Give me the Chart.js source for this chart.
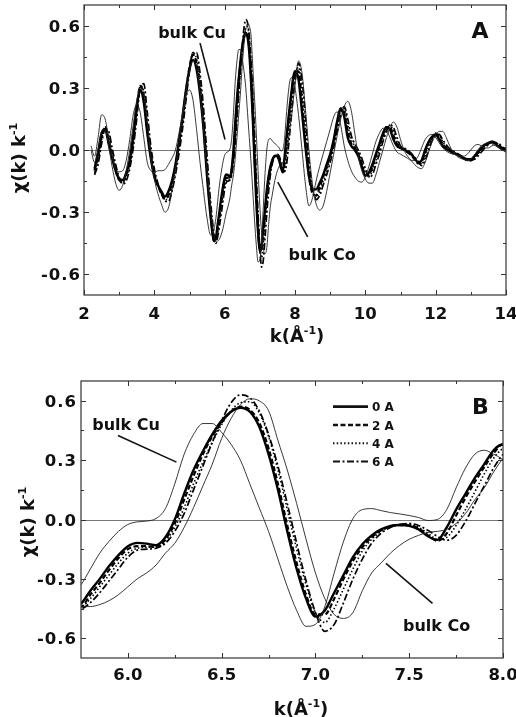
<!DOCTYPE html>
<html>
<head>
<meta charset="utf-8">
<script src="https://cdn.jsdelivr.net/npm/chart.js@4.4.0/dist/chart.umd.min.js"></script>
<style>
  html, body { margin: 0; padding: 0; background: #fff; }
  #wrap { position: relative; width: 516px; height: 717px; overflow: hidden; }
  #chartA { position: absolute; left: 0; top: 0; }
  #chartB { position: absolute; left: 0; top: 345px; }
</style>
</head>
<body>
<div id="wrap">
  <canvas id="chartA" width="516" height="345"></canvas>
  <canvas id="chartB" width="516" height="372"></canvas>
</div>
<script>
// photoelectron wave number k (1/Angstrom); finer steps across 5.75-8.0 for the zoomed panel
const kValues = [
  2.2, 2.3, 2.4, 2.5, 2.6, 2.7, 2.8, 2.9, 3.0, 3.1, 3.2, 3.3, 3.4, 3.5, 3.6, 3.7, 3.8, 3.9,
  4.0, 4.1, 4.2, 4.3, 4.4, 4.5, 4.6, 4.7, 4.8, 4.9, 5.0, 5.1, 5.2, 5.3, 5.4, 5.5, 5.6, 5.7,
  5.75, 5.8, 5.85, 5.9, 5.95, 6.0, 6.05, 6.1, 6.15, 6.2,
  6.25, 6.3, 6.35, 6.4, 6.45, 6.5, 6.55, 6.6, 6.65, 6.7,
  6.75, 6.8, 6.85, 6.9, 6.95, 7.0, 7.05, 7.1, 7.15, 7.2,
  7.25, 7.3, 7.35, 7.4, 7.45, 7.5, 7.55, 7.6, 7.65, 7.7,
  7.75, 7.8, 7.85, 7.9, 7.95, 8.0,
  8.1, 8.2, 8.3, 8.4, 8.5, 8.6, 8.7, 8.8, 8.9,
  9.0, 9.1, 9.2, 9.3, 9.4, 9.5, 9.6, 9.7, 9.8, 9.9,
  10.0, 10.1, 10.2, 10.3, 10.4, 10.5, 10.6, 10.7, 10.8, 10.9,
  11.0, 11.1, 11.2, 11.3, 11.4, 11.5, 11.6, 11.7, 11.8, 11.9,
  12.0, 12.1, 12.2, 12.3, 12.4, 12.5, 12.6, 12.7, 12.8, 12.9,
  13.0, 13.1, 13.2, 13.3, 13.4, 13.5, 13.6, 13.7, 13.8, 13.9,
  14.0
];

// chi(k)*k for the four Cu spacer thicknesses
const chi0A = [
  null, -0.09, -0.01, 0.08, 0.10, 0.03, -0.04, -0.10, -0.14, -0.145, -0.11, -0.05, 0.07, 0.21, 0.29, 0.23, 0.08, -0.04,
  -0.13, -0.17, -0.20, -0.225, -0.20, -0.15, -0.07, 0.04, 0.16, 0.29, 0.39, 0.435, 0.39, 0.27, 0.10, -0.13, -0.32, -0.44,
  -0.425, -0.36, -0.30, -0.235, -0.18, -0.135, -0.118, -0.122, -0.13, -0.09,
  0.0, 0.13, 0.25, 0.345, 0.43, 0.50, 0.545, 0.565, 0.545, 0.47,
  0.33, 0.15, -0.06, -0.25, -0.40, -0.49, -0.46, -0.37, -0.28, -0.19,
  -0.125, -0.08, -0.05, -0.032, -0.028, -0.032, -0.05, -0.085, -0.103, -0.04,
  0.05, 0.13, 0.21, 0.28, 0.35, 0.38,
  0.34, 0.18, 0.01, -0.13, -0.19, -0.19, -0.16, -0.12, -0.07,
  -0.02, 0.05, 0.14, 0.20, 0.16, 0.06, 0.02, 0.00, -0.03, -0.08,
  -0.125, -0.11, -0.07, -0.02, 0.03, 0.08, 0.11, 0.10, 0.05, 0.02,
  0.01, 0.005, -0.01, -0.02, -0.04, -0.06, -0.05, 0.0, 0.04, 0.065,
  0.075, 0.05, 0.02, 0.005, -0.005, -0.015, -0.02, -0.03, -0.04, -0.045,
  -0.045, -0.03, -0.01, 0.01, 0.025, 0.035, 0.04, 0.03, 0.015, 0.005,
  0.005
];
const chi2A = [
  null, -0.10, -0.03, 0.07, 0.11, 0.05, -0.03, -0.10, -0.145, -0.155, -0.12, -0.06, 0.05, 0.20, 0.31, 0.26, 0.10, -0.03,
  -0.12, -0.17, -0.21, -0.235, -0.22, -0.16, -0.08, 0.03, 0.15, 0.28, 0.40, 0.46, 0.42, 0.30, 0.12, -0.11, -0.31, -0.44,
  -0.44, -0.38, -0.32, -0.255, -0.195, -0.15, -0.135, -0.135, -0.14, -0.10,
  -0.02, 0.10, 0.22, 0.33, 0.42, 0.49, 0.545, 0.57, 0.555, 0.49,
  0.36, 0.18, -0.03, -0.22, -0.38, -0.48, -0.48, -0.40, -0.30, -0.21,
  -0.14, -0.09, -0.055, -0.035, -0.028, -0.03, -0.045, -0.08, -0.108, -0.07,
  0.02, 0.11, 0.19, 0.265, 0.335, 0.38,
  0.38, 0.22, 0.03, -0.13, -0.21, -0.22, -0.18, -0.13, -0.08,
  -0.03, 0.04, 0.13, 0.20, 0.18, 0.09, 0.03, 0.01, -0.02, -0.07,
  -0.12, -0.12, -0.08, -0.03, 0.02, 0.07, 0.11, 0.11, 0.07, 0.03,
  0.01, 0.0, -0.01, -0.025, -0.045, -0.065, -0.06, -0.01, 0.035, 0.06,
  0.08, 0.06, 0.03, 0.01, 0.0, -0.01, -0.02, -0.03, -0.04, -0.05,
  -0.05, -0.035, -0.015, 0.005, 0.02, 0.03, 0.04, 0.035, 0.02, 0.01,
  0.0
];
const chi4A = [
  null, -0.11, -0.05, 0.05, 0.11, 0.07, -0.02, -0.09, -0.14, -0.16, -0.13, -0.07, 0.03, 0.18, 0.31, 0.28, 0.13, -0.01,
  -0.11, -0.17, -0.21, -0.24, -0.23, -0.18, -0.10, 0.01, 0.13, 0.27, 0.40, 0.47, 0.44, 0.33, 0.15, -0.08, -0.29, -0.43,
  -0.44, -0.40, -0.34, -0.28, -0.22, -0.17, -0.145, -0.14, -0.14, -0.11,
  -0.04, 0.06, 0.18, 0.29, 0.39, 0.48, 0.55, 0.59, 0.595, 0.54,
  0.42, 0.25, 0.05, -0.15, -0.33, -0.47, -0.52, -0.45, -0.35, -0.25,
  -0.16, -0.10, -0.06, -0.035, -0.025, -0.025, -0.04, -0.07, -0.10, -0.09,
  -0.03, 0.05, 0.14, 0.23, 0.31, 0.36,
  0.40, 0.28, 0.08, -0.10, -0.20, -0.23, -0.20, -0.15, -0.10,
  -0.04, 0.03, 0.11, 0.19, 0.20, 0.12, 0.05, 0.02, -0.01, -0.06,
  -0.11, -0.13, -0.10, -0.05, 0.0, 0.06, 0.10, 0.12, 0.09, 0.04,
  0.015, 0.005, -0.005, -0.02, -0.04, -0.06, -0.07, -0.03, 0.02, 0.055,
  0.075, 0.07, 0.04, 0.015, 0.0, -0.01, -0.02, -0.03, -0.04, -0.05,
  -0.05, -0.04, -0.02, 0.0, 0.02, 0.03, 0.035, 0.035, 0.025, 0.01,
  0.0
];
const chi6A = [
  null, -0.12, -0.07, 0.03, 0.10, 0.09, 0.01, -0.07, -0.13, -0.165, -0.15, -0.09, 0.01, 0.15, 0.30, 0.32, 0.18, 0.02,
  -0.09, -0.16, -0.21, -0.245, -0.25, -0.20, -0.12, -0.02, 0.10, 0.24, 0.38, 0.47, 0.47, 0.37, 0.20, -0.03, -0.25, -0.41,
  -0.45, -0.42, -0.37, -0.31, -0.25, -0.19, -0.155, -0.15, -0.145, -0.12,
  -0.06, 0.03, 0.15, 0.27, 0.39, 0.50, 0.59, 0.63, 0.615, 0.55,
  0.43, 0.27, 0.08, -0.12, -0.31, -0.47, -0.565, -0.53, -0.42, -0.30,
  -0.20, -0.12, -0.07, -0.04, -0.025, -0.02, -0.03, -0.055, -0.085, -0.105,
  -0.08, -0.01, 0.08, 0.17, 0.26, 0.33,
  0.42, 0.34, 0.15, -0.06, -0.19, -0.24, -0.22, -0.17, -0.12,
  -0.06, 0.01, 0.09, 0.17, 0.21, 0.15, 0.07, 0.03, 0.0, -0.04,
  -0.09, -0.13, -0.12, -0.07, -0.02, 0.04, 0.09, 0.12, 0.11, 0.06,
  0.02, 0.01, 0.0, -0.015, -0.035, -0.055, -0.075, -0.05, 0.0, 0.045,
  0.07, 0.075, 0.05, 0.025, 0.005, -0.005, -0.015, -0.025, -0.035, -0.045,
  -0.05, -0.045, -0.03, -0.01, 0.01, 0.025, 0.035, 0.035, 0.03, 0.015,
  0.005
];
// reference spectra
const chiBulkCu = [
  0.02, -0.03, 0.06, 0.17, 0.15, 0.06, -0.03, -0.09, -0.105, -0.10, -0.05, 0.05, 0.17, 0.22, 0.18, 0.06, -0.06, -0.10,
  -0.11, -0.10, -0.10, -0.095, -0.07, -0.04, 0.0, 0.08, 0.17, 0.26, 0.29, 0.24, 0.10, -0.06, -0.20, -0.33, -0.41, -0.38,
  -0.33, -0.25, -0.17, -0.11, -0.06, -0.025, -0.012, -0.008, 0.005, 0.055,
  0.18, 0.33, 0.43, 0.485, 0.485, 0.44, 0.38, 0.30, 0.18, 0.06,
  -0.06, -0.20, -0.34, -0.46, -0.54, -0.53, -0.44, -0.27, -0.11, 0.005,
  0.05, 0.055, 0.045, 0.035, 0.028, 0.02, 0.01, -0.005, 0.0, 0.05,
  0.16, 0.26, 0.33, 0.35, 0.33, 0.30,
  0.17, 0.0, -0.17, -0.27, -0.23, -0.15, -0.08, -0.02, 0.04,
  0.10, 0.16, 0.185, 0.12, 0.02, -0.05, -0.10, -0.13, -0.15, -0.155,
  -0.13, -0.08, -0.02, 0.04, 0.08, 0.105, 0.10, 0.06, 0.02, -0.01,
  -0.02, -0.03, -0.04, -0.05, -0.05, -0.03, 0.01, 0.05, 0.07, 0.075,
  0.06, 0.035, 0.01, -0.005, -0.015, -0.02, -0.025, -0.03, -0.03, -0.02,
  0.0, 0.02, 0.027, 0.02, 0.01, 0.01, 0.02, 0.025, 0.015, 0.0,
  -0.01
];
const chiBulkCo = [
  0.0, -0.06, 0.0, 0.09, 0.10, 0.02, -0.08, -0.16, -0.195, -0.17, -0.10, 0.0, 0.12, 0.24, 0.30, 0.27, 0.13, -0.03,
  -0.14, -0.21, -0.26, -0.30, -0.28, -0.20, -0.09, 0.03, 0.16, 0.28, 0.38, 0.43, 0.40, 0.28, 0.10, -0.10, -0.28, -0.41,
  -0.44, -0.44, -0.43, -0.41, -0.38, -0.34, -0.30, -0.27, -0.23, -0.17,
  -0.12, -0.04, 0.06, 0.17, 0.28, 0.41, 0.51, 0.58, 0.61, 0.60,
  0.55, 0.40, 0.25, 0.08, -0.10, -0.27, -0.40, -0.48, -0.50, -0.47,
  -0.36, -0.27, -0.22, -0.17, -0.13, -0.10, -0.08, -0.065, -0.06, -0.05,
  -0.02, 0.03, 0.10, 0.16, 0.24, 0.31,
  0.43, 0.37, 0.19, -0.01, -0.17, -0.26, -0.29, -0.27, -0.20,
  -0.11, -0.02, 0.07, 0.15, 0.21, 0.235, 0.19, 0.08, -0.03, -0.10,
  -0.14, -0.16, -0.16, -0.12, -0.06, 0.0, 0.06, 0.11, 0.135, 0.11,
  0.05, 0.0, -0.03, -0.05, -0.07, -0.085, -0.09, -0.06, -0.01, 0.04,
  0.07, 0.09, 0.09, 0.06, 0.02, -0.01, -0.03, -0.04, -0.045, -0.05,
  -0.045, -0.025, 0.0, 0.02, 0.03, 0.035, 0.03, 0.02, 0.01, 0.0,
  -0.01
];

const legendLabels = ['0 A', '2 A', '4 A', '6 A'];

// axis ticks
const yMajor = [-0.6, -0.3, 0.0, 0.3, 0.6];
const yMinor = [-0.45, -0.15, 0.15, 0.45];
const xMajorA = [2, 4, 6, 8, 10, 12, 14];
const xMinorA = [3, 5, 7, 9, 11, 13];
const xMajorB = [6.0, 6.5, 7.0, 7.5, 8.0];
const xMinorB = [6.25, 6.75, 7.25, 7.75];

const FONT = '"DejaVu Sans", "Liberation Sans", sans-serif';
const INK = '#111';

const sampleStyles = [
  { width: 2.4, dash: [] },
  { width: 2.2, dash: [5, 2.5] },
  { width: 1.6, dash: [1.5, 2.2] },
  { width: 1.7, dash: [7, 2.5, 2, 2.5] }
];

function toPoints(ys) {
  return kValues.map((k, i) => ({ x: k, y: ys[i] }));
}

function buildDatasets() {
  const refs = [chiBulkCu, chiBulkCo].map(ys => ({
    data: toPoints(ys),
    borderColor: '#222',
    borderWidth: 0.9,
    pointRadius: 0,
    cubicInterpolationMode: 'monotone'
  }));
  const samples = [chi0A, chi2A, chi4A, chi6A].map((ys, i) => ({
    data: toPoints(ys),
    borderColor: '#000',
    borderWidth: sampleStyles[i].width,
    borderDash: sampleStyles[i].dash,
    pointRadius: 0,
    cubicInterpolationMode: 'monotone'
  }));
  return refs.concat(samples);
}

// draws pieces [text, font, rise] centred on cx at the given baseline
function drawPieces(ctx, pieces, cx, baseline) {
  let total = 0;
  const widths = pieces.map(([t, f]) => { ctx.font = f; const w = ctx.measureText(t).width; total += w; return w; });
  let x = cx - total / 2;
  pieces.forEach(([t, f, rise], i) => {
    ctx.font = f;
    ctx.fillText(t, x, baseline - rise);
    x += widths[i];
  });
}

function makeDecor(p) {
  return {
    id: 'decor',
    beforeDatasetsDraw(chart) {
      const { ctx, chartArea: a, scales: { y } } = chart;
      const y0 = Math.round(y.getPixelForValue(0)) + 0.5;
      ctx.save();
      ctx.strokeStyle = '#777';
      ctx.lineWidth = 1;
      ctx.beginPath();
      ctx.moveTo(a.left, y0);
      ctx.lineTo(a.right, y0);
      ctx.stroke();
      ctx.restore();
    },
    afterDraw(chart) {
      const { ctx, chartArea: a, scales: { x, y } } = chart;
      ctx.save();

      // frame and inward ticks on all four sides
      ctx.strokeStyle = '#333';
      ctx.lineWidth = 1.2;
      ctx.strokeRect(a.left, a.top, a.right - a.left, a.bottom - a.top);
      ctx.lineWidth = 1;
      ctx.beginPath();
      const xt = (v, len) => {
        const px = Math.round(x.getPixelForValue(v)) + 0.5;
        ctx.moveTo(px, a.bottom); ctx.lineTo(px, a.bottom - len);
        ctx.moveTo(px, a.top); ctx.lineTo(px, a.top + len);
      };
      const yt = (v, len) => {
        const py = Math.round(y.getPixelForValue(v)) + 0.5;
        ctx.moveTo(a.left, py); ctx.lineTo(a.left + len, py);
        ctx.moveTo(a.right, py); ctx.lineTo(a.right - len, py);
      };
      p.xMajor.forEach(v => xt(v, 5));
      p.xMinor.forEach(v => xt(v, 3));
      yMajor.forEach(v => yt(v, 5));
      yMinor.forEach(v => yt(v, 3));
      ctx.stroke();

      // tick labels
      ctx.fillStyle = INK;
      ctx.font = 'bold 16.5px ' + FONT;
      ctx.textAlign = 'center';
      ctx.textBaseline = 'alphabetic';
      p.xMajor.forEach(v => {
        ctx.fillText(p.xDigits ? v.toFixed(p.xDigits) : String(v), x.getPixelForValue(v), p.xLabelY);
      });
      ctx.textAlign = 'right';
      ctx.letterSpacing = '1px';
      yMajor.forEach(v => {
        ctx.fillText(v.toFixed(1), a.left - p.yLabelGap + 1, y.getPixelForValue(v) + 6);
      });
      ctx.letterSpacing = '0px';

      // axis titles
      ctx.textAlign = 'left';
      const big = 'bold 18px ' + FONT, sup = 'bold 11px ' + FONT;
      drawPieces(ctx, [['k(Å', big, 0], ['-1', sup, 8], [')', big, 0]], p.xTitle[0], p.xTitle[1]);
      ctx.save();
      ctx.translate(p.yTitle[0], p.yTitle[1]);
      ctx.rotate(-Math.PI / 2);
      drawPieces(ctx, [['χ(k) k', big, 0], ['-1', sup, 8]], 0, 5);
      ctx.restore();

      // panel letter
      ctx.textAlign = 'center';
      ctx.font = 'bold 22px ' + FONT;
      ctx.fillText(p.letter, x.getPixelForValue(p.letterAt[0]), y.getPixelForValue(p.letterAt[1]));

      // reference labels with pointer lines
      ctx.font = 'bold 16px ' + FONT;
      ctx.lineWidth = 1.6;
      ctx.strokeStyle = INK;
      p.notes.forEach(n => {
        ctx.fillText(n.text, x.getPixelForValue(n.at[0]), y.getPixelForValue(n.at[1]));
        ctx.beginPath();
        ctx.moveTo(x.getPixelForValue(n.from[0]), y.getPixelForValue(n.from[1]));
        ctx.lineTo(x.getPixelForValue(n.to[0]), y.getPixelForValue(n.to[1]));
        ctx.stroke();
      });

      // legend for the spacer thicknesses
      if (p.legend) {
        const L = p.legend;
        ctx.textAlign = 'left';
        ctx.font = 'bold 12px ' + FONT;
        legendLabels.forEach((lab, i) => {
          const ry = L.top + i * L.step;
          ctx.beginPath();
          ctx.setLineDash(sampleStyles[i].dash);
          ctx.lineWidth = sampleStyles[i].width + 0.3;
          ctx.moveTo(L.x0, ry);
          ctx.lineTo(L.x1, ry);
          ctx.stroke();
          ctx.setLineDash([]);
          ctx.fillText(lab, L.tx, ry + 4.5);
        });
      }
      ctx.restore();
    }
  };
}

const panelA = {
  canvas: 'chartA',
  xRange: [2, 14],
  padding: { left: 84, right: 10, top: 5, bottom: 50 },
  xMajor: xMajorA, xMinor: xMinorA, xDigits: 0,
  xLabelY: 318.5, yLabelGap: 4,
  xTitle: [297, 342], yTitle: [20, 158],
  letter: 'A', letterAt: [13.26, 0.54],
  notes: [
    { text: 'bulk Cu', at: [5.07, 0.541], from: [5.30, 0.516], to: [6.01, 0.051] },
    { text: 'bulk Co', at: [8.77, -0.53], from: [7.51, -0.155], to: [8.36, -0.419] }
  ],
  legend: null
};

const panelB = {
  canvas: 'chartB',
  xRange: [5.75, 8.0],
  padding: { left: 81, right: 13, top: 36, bottom: 59 },
  xMajor: xMajorB, xMinor: xMinorB, xDigits: 1,
  xLabelY: 335, yLabelGap: 5,
  xTitle: [301, 370], yTitle: [29, 177],
  letter: 'B', letterAt: [7.88, 0.535],
  notes: [
    { text: 'bulk Cu', at: [5.99, 0.45], from: [5.947, 0.425], to: [6.259, 0.29] },
    { text: 'bulk Co', at: [7.646, -0.566], from: [7.376, -0.222], to: [7.624, -0.424] }
  ],
  legend: { x0: 333, x1: 368, tx: 372, top: 61.7, step: 18.3 }
};

[panelA, panelB].forEach(p => {
  new Chart(document.getElementById(p.canvas), {
    type: 'line',
    data: { datasets: buildDatasets() },
    options: {
      responsive: false,
      animation: false,
      events: [],
      layout: { padding: p.padding },
      plugins: { legend: { display: false }, tooltip: { enabled: false } },
      scales: {
        x: { type: 'linear', display: false, min: p.xRange[0], max: p.xRange[1] },
        y: { type: 'linear', display: false, min: -0.7, max: 0.7 }
      }
    },
    plugins: [makeDecor(p)]
  });
});
</script>
</body>
</html>
